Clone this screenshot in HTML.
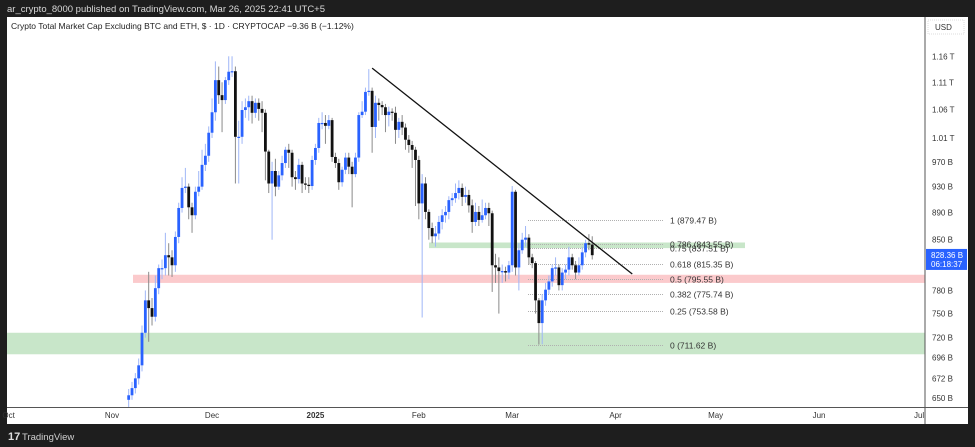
<!DOCTYPE html>
<html><head><meta charset="utf-8"><style>
html,body{margin:0;padding:0;background:#1e1e1e;}
svg{display:block;font-family:"Liberation Sans",sans-serif;}
</style></head><body>
<svg id="chart" width="975" height="447" viewBox="0 0 975 447">
<rect x="0" y="0" width="975" height="447" fill="#1e1e1e"/>
<text x="7" y="12" font-size="9.5" fill="#d8d8d8">ar_crypto_8000 published on TradingView.com, Mar 26, 2025 22:41 UTC+5</text>
<rect x="7" y="17" width="961" height="407" fill="#ffffff"/>
<g id="bands"></g>
<g id="fib"></g>
<g id="candles"></g>
<g id="overlay"></g>
<line x1="925" y1="17" x2="925" y2="424" stroke="#555" stroke-width="1"/>
<line x1="7" y1="407.5" x2="968" y2="407.5" stroke="#555" stroke-width="1"/>
<g id="yaxis"></g>
<g id="xaxis"></g>
<text x="11" y="29" font-size="8.5" fill="#222">Crypto Total Market Cap Excluding BTC and ETH, $ · 1D · CRYPTOCAP  −9.36 B (−1.12%)</text>
<rect x="928" y="20" width="36" height="14" fill="#fff" stroke="#ddd" stroke-dasharray="1,1"/>
<text x="935" y="30" font-size="8" fill="#333">USD</text>
<text x="8" y="440" font-size="11" font-weight="bold" fill="#e0e0e0">17</text>
<text x="22" y="440" font-size="9.5" fill="#d0d0d0">TradingView</text>
</svg>
<script>
const startDay = 5;
const firstOpen = 648;
const closes = [653,661,672,687,726,767,757,746,783,810,810,828,825,814,854,897,928,930,898,886,922,930,965,980,1019,1055,1114,1086,1077,1114,1130,1131,1012,1012,1059,1064,1075,1054,1072,1061,1054,987,935,955,930,948,968,990,985,945,942,965,935,933,931,973,993,1036,1036,1031,1041,978,968,937,957,977,962,950,977,1050,1056,1092,1094,1029,1072,1068,1064,1050,1056,1054,1024,1038,1028,1007,998,990,973,904,935,891,867,855,859,876,886,891,909,912,920,928,914,917,901,876,891,879,886,897,889,814,811,806,806,804,814,922,811,835,850,853,825,817,767,738,767,781,792,810,811,787,804,808,825,814,804,814,832,845,843,828];
const highs = [660,668,678,695,735,780,805,770,800,815,822,860,845,835,862,905,945,960,935,905,930,955,990,1000,1030,1080,1150,1140,1110,1120,1160,1160,1140,1040,1075,1080,1085,1085,1080,1080,1075,1060,990,970,975,955,980,995,1000,990,955,975,970,945,945,980,1000,1045,1055,1050,1050,1045,985,975,962,985,985,970,985,1055,1075,1100,1135,1100,1085,1080,1075,1070,1065,1062,1065,1045,1050,1035,1015,1005,995,980,950,945,895,875,870,885,895,900,915,920,935,940,935,930,925,910,905,900,910,905,905,893,830,825,815,812,820,931,925,845,860,870,858,830,820,770,775,790,800,815,825,815,810,815,840,830,820,825,840,850,858,855];
const lows = [640,648,655,665,680,720,715,735,740,775,795,800,800,798,805,845,890,920,880,860,880,915,925,955,970,1010,1040,1070,1020,1070,1105,1120,935,935,1000,1045,1040,1035,1045,1040,1020,940,920,850,915,925,940,960,960,930,925,935,920,925,920,925,965,985,1025,1000,1025,970,960,925,930,950,950,898,945,970,1045,1050,1085,985,1010,1040,1050,1020,1030,1040,1000,1010,1015,990,985,960,900,880,745,880,850,845,840,850,865,875,880,900,905,910,900,905,890,860,870,870,875,880,870,778,790,750,790,792,795,805,800,780,830,840,815,810,750,711.6,712,760,775,785,800,780,780,795,800,808,795,800,808,825,835,822];
const yTicks = [1160,1110,1060,1010,970,930,890,850,780,750,720,696,672,650];
const yTickLabels = ["1.16 T","1.11 T","1.06 T","1.01 T","970 B","930 B","890 B","850 B","780 B","750 B","720 B","696 B","672 B","650 B"];
const xTickDays = [-31,0,30,61,92,120,151,181,212,242];
const xTickLabels = ["Oct","Nov","Dec","2025","Feb","Mar","Apr","May","Jun","Jul"];
const fibLevels = [879.47,843.55,837.51,815.35,795.55,775.74,753.58,711.62];
const fibLabels = ["1 (879.47 B)","0.786 (843.55 B)","0.75 (837.51 B)","0.618 (815.35 B)","0.5 (795.55 B)","0.382 (775.74 B)","0.25 (753.58 B)","0 (711.62 B)"];
const lastPrice = 828.36;
const trendStart = [78, 1137];
const trendEnd = [156, 802];

const NS="http://www.w3.org/2000/svg";
function Y(v){return 398-590*Math.log(v/650);}
function X(day){return 112+day*3.335;}
function mk(tag,attrs,parent){const e=document.createElementNS(NS,tag);for(const k in attrs)e.setAttribute(k,attrs[k]);parent.appendChild(e);return e;}
const bands=document.getElementById('bands');
let e;
e=mk('rect',{x:7,y:Y(726),width:918,height:Y(700)-Y(726),fill:'#c8e6c9'},bands);


e=mk('rect',{x:133,y:Y(801),width:792,height:Y(790)-Y(801),fill:'#fbcacc'},bands);


e=mk('rect',{x:429,y:Y(846),width:316,height:Y(838)-Y(846),fill:'#c8e6c9'},bands);



const fib=document.getElementById('fib');
fibLevels.forEach((v,i)=>{
  const y=Math.round(Y(v))+0.5;
  const l=mk('line',{x1:528,x2:663,y1:y,y2:y,stroke:'#b0b0b0','stroke-width':1,'stroke-dasharray':'1,1'},fib);
  
  
  const t=mk('text',{x:670,y:y+3,'font-size':8.5,fill:'#333'},fib);
  t.textContent=fibLabels[i];
  
  
});

const cg=document.getElementById('candles');
closes.forEach((c,i)=>{
  const o=i===0?firstOpen:closes[i-1];
  const x=X(startDay+i);
  const up=c>=o;
  const w=mk('line',{x1:x,x2:x,y1:Y(highs[i]),y2:Y(lows[i]),stroke:up?'#9fb6f7':'#8a8a8a','stroke-width':1},cg);
  
  
  const top=Y(Math.max(o,c)),bot=Y(Math.min(o,c));
  const b=mk('rect',{x:x-1.4,y:top,width:2.8,height:Math.max(1.2,bot-top),fill:up?'#2962ff':'#111'},cg);
  
  
});

const ov=document.getElementById('overlay');
e=mk('line',{x1:X(trendStart[0]),y1:Y(trendStart[1]),x2:X(trendEnd[0]),y2:Y(trendEnd[1]),stroke:'#111','stroke-width':1.3},ov);



const ya=document.getElementById('yaxis');
yTicks.forEach((v,i)=>{
  const t=mk('text',{x:932,y:Y(v)+3,'font-size':8,fill:'#333'},ya);
  t.textContent=yTickLabels[i];
  
  
});
const py=Y(lastPrice);
e=mk('rect',{x:926,y:py-6,width:41,height:21,fill:'#2962ff'},ya);


e=mk('text',{x:931,y:py+3,'font-size':8,fill:'#fff'},ya);
e.textContent=lastPrice.toFixed(2)+' B';


e=mk('text',{x:931,y:py+12,'font-size':8,fill:'#fff'},ya);
e.textContent='06:18:37';



const xa=document.getElementById('xaxis');
xTickDays.forEach((d,i)=>{
  const t=mk('text',{x:X(d),y:418,'font-size':8,fill:'#333','text-anchor':'middle','font-weight':xTickLabels[i]==='2025'?'bold':'normal'},xa);
  t.textContent=xTickLabels[i];
  
  
});
</script>
</body></html>
